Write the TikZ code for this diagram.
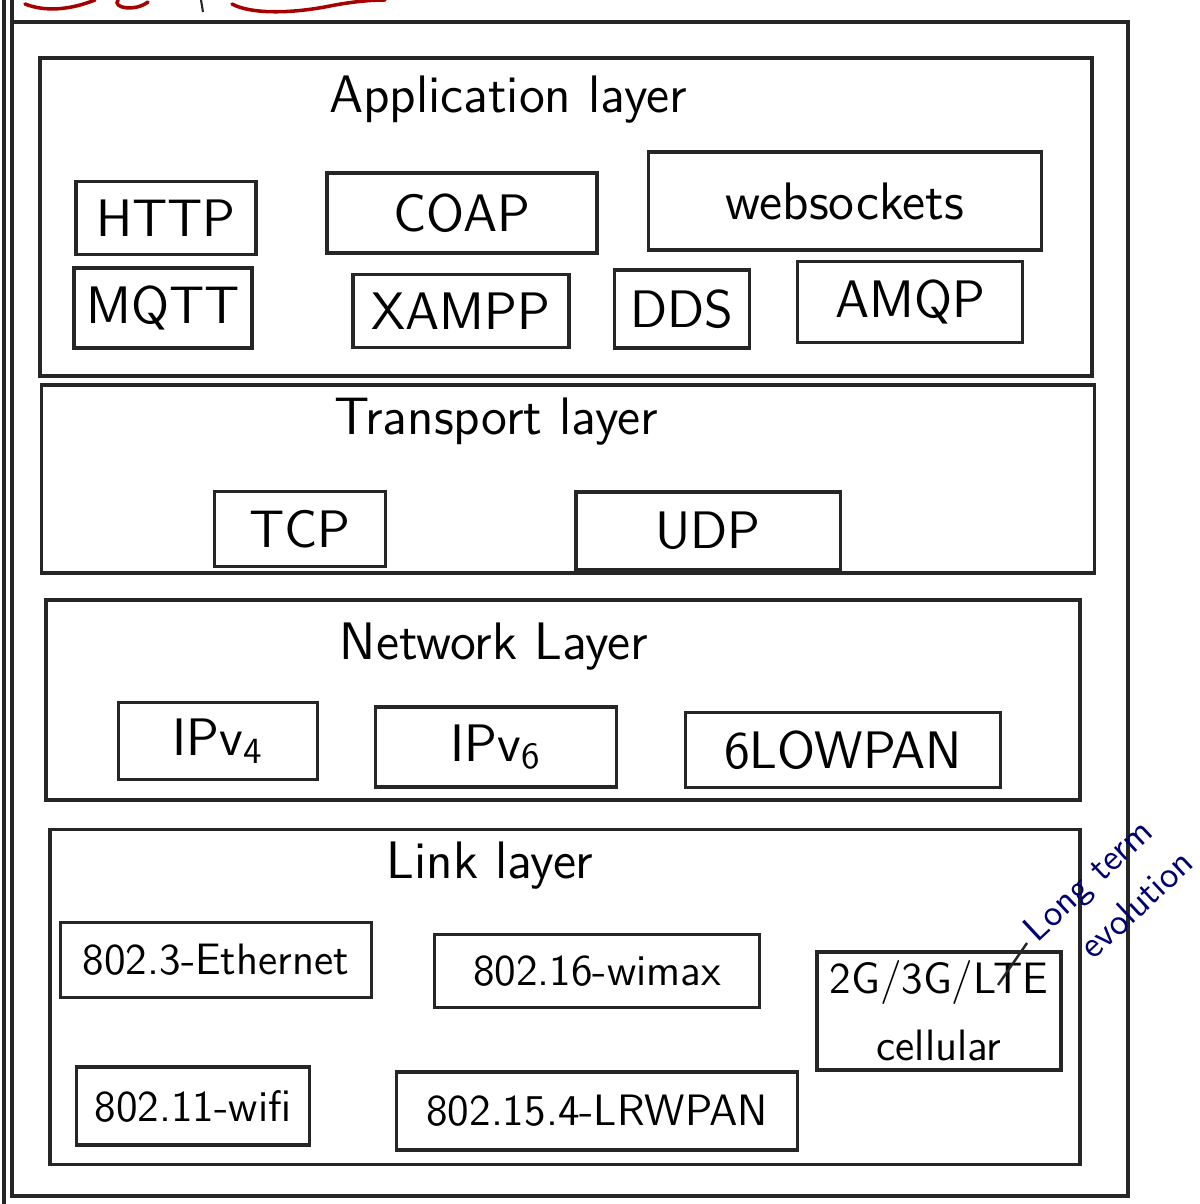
\documentclass[tikz,border=0pt]{standalone}
\usepackage{tikz}

\begin{document}
\begin{tikzpicture}[x=0.01cm, y=-0.01cm,
    ink/.style={draw=black!85, line width=0.9pt},
    layerbox/.style={ink, inner sep=0pt},
    proto/.style={ink, inner sep=0pt, font=\sffamily\fontsize{15}{17}\selectfont},
    linkproto/.style={proto, align=center, font=\sffamily\fontsize{12.5}{19}\selectfont},
    layertitle/.style={font=\sffamily\fontsize{15}{17}\selectfont},
    redink/.style={draw=red!65!black, line width=1pt, line cap=round},
    blueink/.style={text=blue!45!black, inner sep=0pt, rotate=43,
                    font=\sffamily\fontsize{10.5}{12}\selectfont}]
  \useasboundingbox (0,0) rectangle (1199,1204);

  % page frame (double rule on the left)
  \draw[ink] (4,0) -- (4,1204);
  \draw[ink] (12,0) -- (12,1196) -- (1128,1196) -- (1128,22) -- (12,22);

  % red pen strokes along the top edge
  \draw[redink] (25,4) .. controls (45,12) and (70,10) .. (95,0);
  \draw[redink] (118,0) .. controls (112,8) and (135,12) .. (148,2);
  \draw[ink, line width=0.6pt] (201,0) -- (203,12);
  \draw[redink] (232,4) .. controls (250,14) and (290,14) .. (330,6)
                       .. controls (350,2) and (370,0) .. (385,0);

  % the four layers, top to bottom
  \foreach \name/\cx/\cy/\w/\h in {app/566/217/1052/318, trans/568/479/1053/188,
                                   net/563/700/1034/200, link/565/997/1030/335} {
    \node[layerbox, minimum width=\w*0.01cm, minimum height=\h*0.01cm] (\name) at (\cx,\cy) {};
  }
  \node[layertitle] (apptitle)   at (508,100) {Application layer};
  \node[layertitle] (transtitle) at (496,422) {Transport layer};
  \node[layertitle] (nettitle)   at (494,647) {Network Layer};
  \node[layertitle] (linktitle)  at (490,866) {Link layer};

  % application protocols
  \foreach \name/\cx/\cy/\w/\h/\txt in {http/166/218/180/73/HTTP, coap/462/213/270/80/COAP,
      websock/845/201/393/98/websockets, mqtt/163/308/178/80/MQTT,
      xampp/461/311/216/73/XAMPP, dds/682/309/135/78/DDS, amqp/910/302/225/81/AMQP} {
    \node[proto, minimum width=\w*0.01cm, minimum height=\h*0.01cm] (\name) at (\cx,\cy) {\txt};
  }

  % transport protocols
  \node[proto, minimum width=1.71cm, minimum height=0.75cm] (tcp) at (300,529) {TCP};
  \node[proto, minimum width=2.64cm, minimum height=0.78cm] (udp) at (708,531) {UDP};

  % network protocols
  \node[proto, minimum width=1.99cm, minimum height=0.77cm] (ipv4) at (218,741) {IPv\textsubscript{4}};
  \node[proto, minimum width=2.41cm, minimum height=0.80cm] (ipv6) at (496,747) {IPv\textsubscript{6}};
  \node[proto, minimum width=3.15cm, minimum height=0.75cm] (lowpan) at (843,750) {6LOWPAN};

  % link protocols
  \foreach \name/\cx/\cy/\w/\h/\txt in {eth/216/960/311/75/802.3-Ethernet,
      wimax/597/971/325/73/802.16-wimax, cell/939/1011/244/118/{2G/3G/LTE\\cellular},
      wifi/193/1106/233/78/802.11-wifi, lrwpan/597/1111/401/78/802.15.4-LRWPAN} {
    \node[linkproto, minimum width=\w*0.01cm, minimum height=\h*0.01cm] (\name) at (\cx,\cy) {\txt};
  }

  % note on LTE, written slanted
  \node[blueink] (notea) at (1090,882) {Long term};
  \node[blueink] (noteb) at (1136,904) {evolution};
  \coordinate (ltetip) at (998,985);
  \coordinate (noteend) at (1027,943);
  \draw[ink, line width=0.7pt] (ltetip) -- (noteend);
\end{tikzpicture}
\end{document}
